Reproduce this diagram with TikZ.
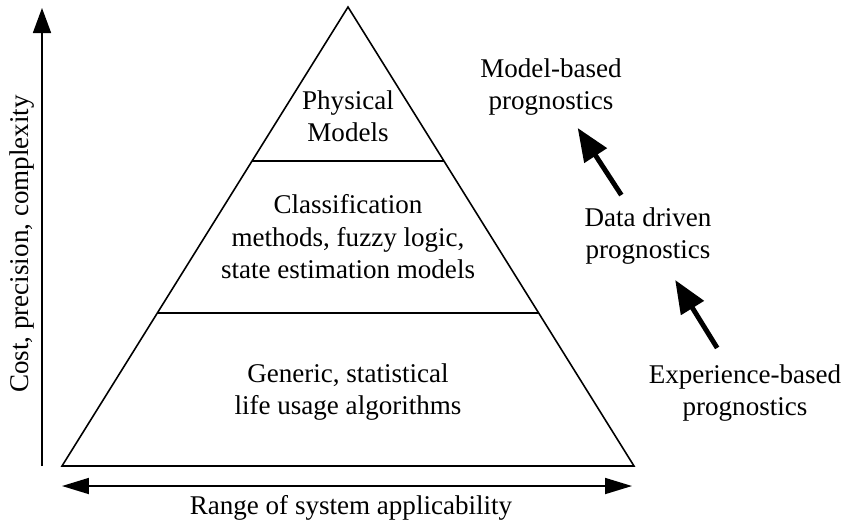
\documentclass[tikz,border=0pt]{standalone}
\usepackage{fontspec}
\setmainfont{Liberation Serif}
\usetikzlibrary{arrows.meta,calc}
\begin{document}
\begin{tikzpicture}[x=0.02cm,y=-0.02cm,
  lbl/.style={align=center,font=\fontsize{15.4}{18.5}\selectfont,inner sep=0pt},
  edge/.style={line width=0.9pt},
  axis/.style={line width=1pt},
  trend/.style={line width=2.8pt,-{Triangle[length=0.66cm,width=0.52cm]}}]
  \useasboundingbox (0,0) rectangle (841,522);
  % pyramid
  \coordinate (apex) at (348,7);
  \coordinate (bl) at (62,466);
  \coordinate (br) at (634,466);
  \draw[edge] (apex) -- (bl) -- (br) -- cycle;
  \draw[edge] ($(apex)!0.3355!(bl)$) -- ($(apex)!0.3355!(br)$);
  \draw[edge] ($(apex)!0.6667!(bl)$) -- ($(apex)!0.6667!(br)$);
  \node[lbl] (phys) at (348,116) {Physical\\Models};
  \node[lbl] (classif) at (348,237) {Classification\\methods, fuzzy logic,\\state estimation models};
  \node[lbl] (generic) at (348,392) {Generic, statistical\\life usage algorithms};
  % axes
  \coordinate (yfoot) at (42,466);
  \coordinate (ytop) at (42,8);
  \draw[axis,-{Triangle[length=0.5cm,width=0.36cm]}] (yfoot) -- (ytop);
  \coordinate (xl) at (62,486);
  \coordinate (xr) at (632,486);
  \draw[axis,{Triangle[length=0.54cm,width=0.32cm]}-{Triangle[length=0.54cm,width=0.32cm]}] (xl) -- (xr);
  \node[lbl] (range) at (351,508) {Range of system applicability};
  \node[lbl,rotate=90] (cost) at (22,244) {Cost, precision, complexity};
  % prognostics levels
  \node[lbl] (modelbased) at (551,87) {Model-based\\prognostics};
  \node[lbl] (datadriven) at (648,236) {Data driven\\prognostics};
  \node[lbl] (experience) at (745,393) {Experience-based\\prognostics};
  \draw[trend] ($(datadriven)!0.275!(modelbased)$) -- ($(datadriven)!0.725!(modelbased)$);
  \draw[trend] ($(experience)!0.287!(datadriven)$) -- ($(experience)!0.72!(datadriven)$);
\end{tikzpicture}
\end{document}
